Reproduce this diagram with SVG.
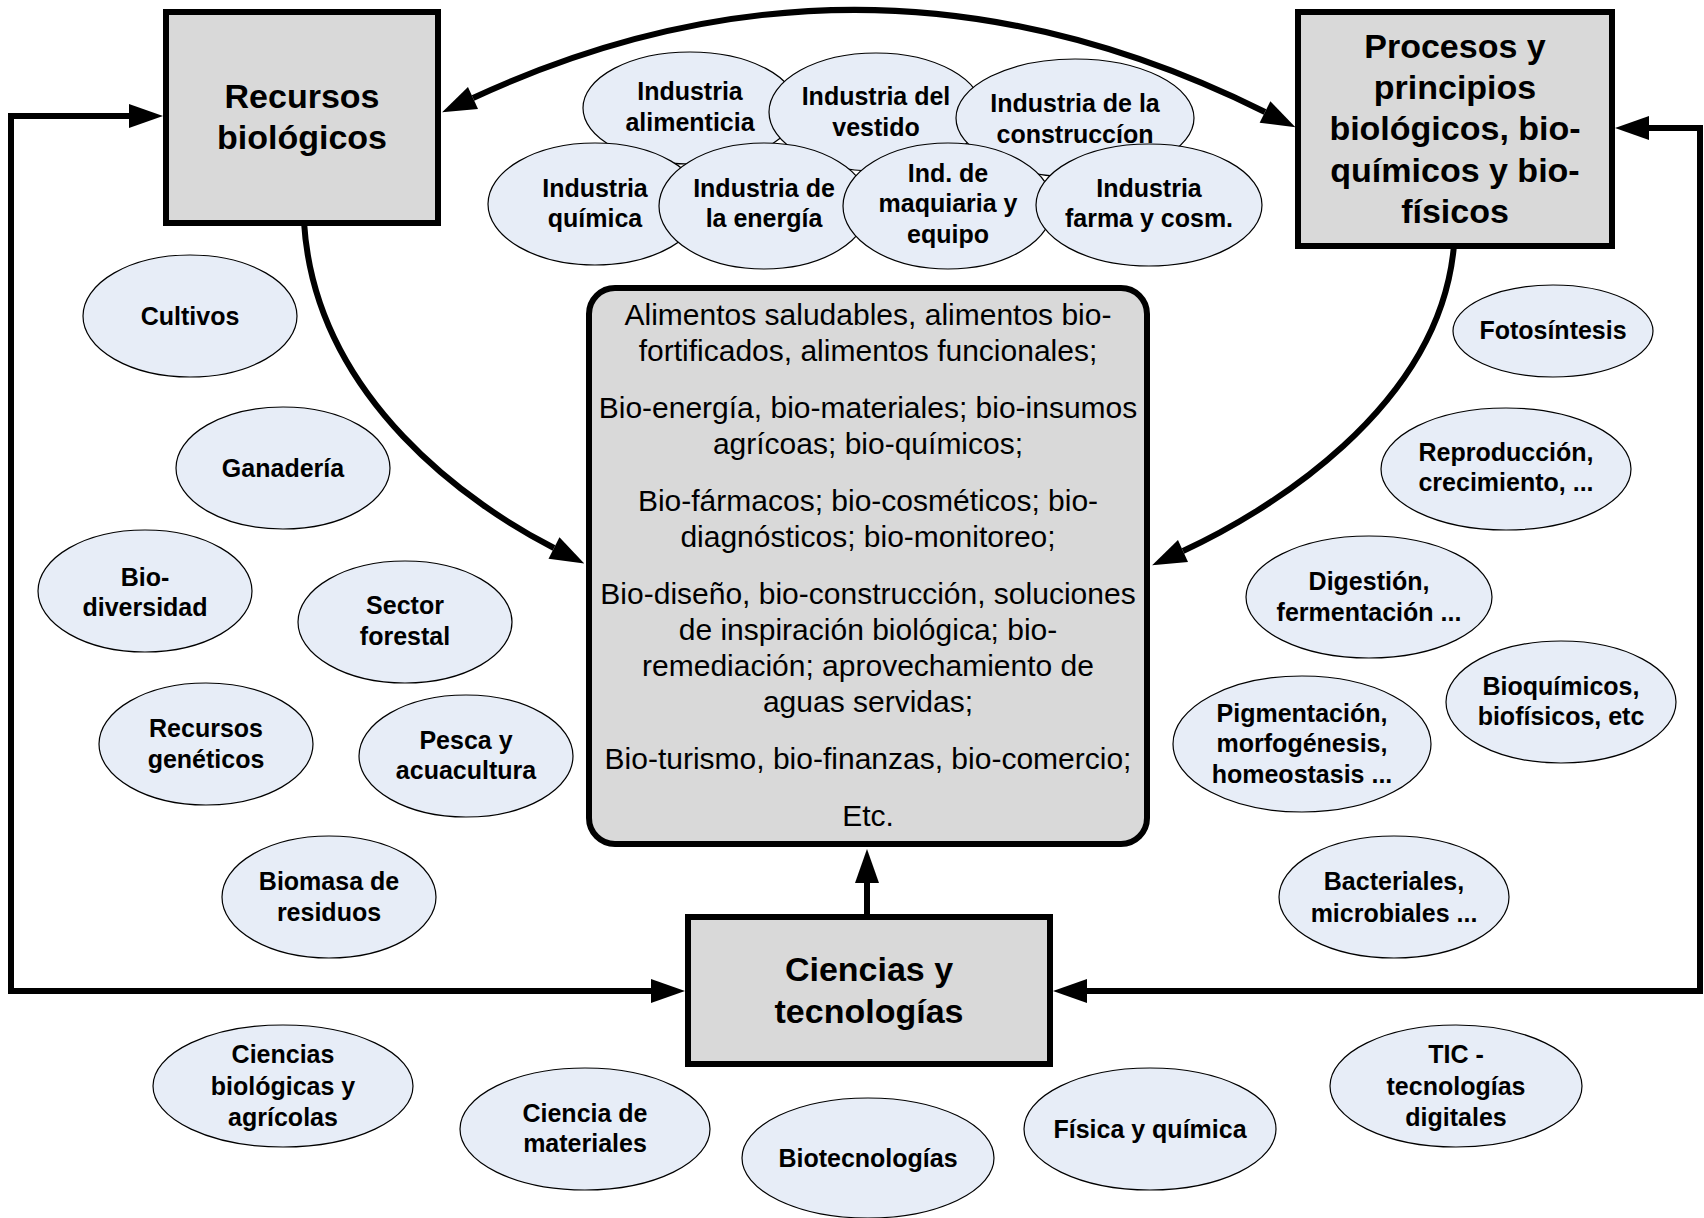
<svg xmlns="http://www.w3.org/2000/svg" width="1704" height="1218" viewBox="0 0 1704 1218">
<style>
.bg{fill:#ffffff}
.box{fill:#d9d9d9;stroke:#000;stroke-width:6}
.el{fill:#e7edf7;stroke:#000;stroke-width:1.2}
.con{fill:none;stroke:#000;stroke-width:6;stroke-linejoin:miter}
.bt{font-family:"Liberation Sans",Arial,sans-serif;font-weight:bold;font-size:34px;text-anchor:middle;fill:#000}
.et{font-family:"Liberation Sans",Arial,sans-serif;font-weight:bold;font-size:25px;text-anchor:middle;fill:#000}
.ct{font-family:"Liberation Sans",Arial,sans-serif;font-size:30px;text-anchor:middle;fill:#000}
</style>
<defs>
<marker id="ah" markerUnits="userSpaceOnUse" markerWidth="36" markerHeight="26" refX="0" refY="12" orient="auto-start-reverse" overflow="visible">
<path d="M0,0 L34,12 L0,24 z" fill="#000"/>
</marker>
</defs>
<rect class="bg" x="0" y="0" width="1704" height="1218"/>

<g id="connectors">
<path class="con" d="M473 98 Q869 -85 1265 112" marker-start="url(#ah)" marker-end="url(#ah)"/>
<path class="con" d="M304 222 C315 400 474 507 554 548" marker-end="url(#ah)"/>
<path class="con" d="M1454 245 C1440 410 1263 514 1183 551" marker-end="url(#ah)"/>
<path class="con" d="M651 991 L11 991 L11 116 L129 116" marker-start="url(#ah)" marker-end="url(#ah)"/>
<path class="con" d="M1087 991 L1700 991 L1700 128 L1649 128" marker-start="url(#ah)" marker-end="url(#ah)"/>
<path class="con" d="M867 916 L867 883" marker-end="url(#ah)"/>
</g>

<g id="recursos">
<rect class="box" x="166" y="12" width="272" height="211"/>
<text class="bt" x="302" y="108">Recursos</text>
<text class="bt" x="302" y="149">biológicos</text>
</g>
<g id="procesos">
<rect class="box" x="1298" y="12" width="314" height="234"/>
<text class="bt" x="1455" y="58">Procesos y</text>
<text class="bt" x="1455" y="99">principios</text>
<text class="bt" x="1455" y="140">biológicos, bio-</text>
<text class="bt" x="1455" y="182">químicos y bio-</text>
<text class="bt" x="1455" y="223">físicos</text>
</g>
<g id="ciencias">
<rect class="box" x="688" y="917" width="362" height="147"/>
<text class="bt" x="869" y="981">Ciencias y</text>
<text class="bt" x="869" y="1023">tecnologías</text>
</g>
<g id="productos">
<rect class="box" x="589" y="288" width="558" height="556" rx="26" ry="26"/>
<text class="ct" x="868" y="325">Alimentos saludables, alimentos bio-</text>
<text class="ct" x="868" y="361">fortificados, alimentos funcionales;</text>
<text class="ct" x="868" y="418">Bio-energía, bio-materiales; bio-insumos</text>
<text class="ct" x="868" y="454">agrícoas; bio-químicos;</text>
<text class="ct" x="868" y="511">Bio-fármacos; bio-cosméticos; bio-</text>
<text class="ct" x="868" y="547">diagnósticos; bio-monitoreo;</text>
<text class="ct" x="868" y="604">Bio-diseño, bio-construcción, soluciones</text>
<text class="ct" x="868" y="640">de inspiración biológica; bio-</text>
<text class="ct" x="868" y="676">remediación; aprovechamiento de</text>
<text class="ct" x="868" y="712">aguas servidas;</text>
<text class="ct" x="868" y="769">Bio-turismo, bio-finanzas, bio-comercio;</text>
<text class="ct" x="868" y="826">Etc.</text>
</g>

<g id="ind-alimenticia"><ellipse class="el" cx="690" cy="108" rx="107" ry="56"/><text class="et" x="690" y="100">Industria</text><text class="et" x="690" y="131">alimenticia</text></g>
<g id="ind-vestido"><ellipse class="el" cx="876" cy="112" rx="107" ry="59"/><text class="et" x="876" y="105">Industria del</text><text class="et" x="876" y="136">vestido</text></g>
<g id="ind-construccion"><ellipse class="el" cx="1075" cy="118" rx="119" ry="59"/><text class="et" x="1075" y="112">Industria de la</text><text class="et" x="1075" y="143">construccíon</text></g>
<g id="ind-quimica"><ellipse class="el" cx="595" cy="204" rx="107" ry="61"/><text class="et" x="595" y="197">Industria</text><text class="et" x="595" y="227">química</text></g>
<g id="ind-energia"><ellipse class="el" cx="764" cy="206" rx="105" ry="63"/><text class="et" x="764" y="197">Industria de</text><text class="et" x="764" y="227">la energía</text></g>
<g id="ind-maquinaria"><ellipse class="el" cx="948" cy="206" rx="105" ry="63"/><text class="et" x="948" y="182">Ind. de</text><text class="et" x="948" y="212">maquiaria y</text><text class="et" x="948" y="243">equipo</text></g>
<g id="ind-farma"><ellipse class="el" cx="1149" cy="205" rx="113" ry="61"/><text class="et" x="1149" y="197">Industria</text><text class="et" x="1149" y="227">farma y cosm.</text></g>

<g id="cultivos"><ellipse class="el" cx="190" cy="316" rx="107" ry="61"/><text class="et" x="190" y="325">Cultivos</text></g>
<g id="ganaderia"><ellipse class="el" cx="283" cy="468" rx="107" ry="61"/><text class="et" x="283" y="477">Ganadería</text></g>
<g id="biodiversidad"><ellipse class="el" cx="145" cy="591" rx="107" ry="61"/><text class="et" x="145" y="586">Bio-</text><text class="et" x="145" y="616">diversidad</text></g>
<g id="forestal"><ellipse class="el" cx="405" cy="622" rx="107" ry="61"/><text class="et" x="405" y="614">Sector</text><text class="et" x="405" y="645">forestal</text></g>
<g id="geneticos"><ellipse class="el" cx="206" cy="744" rx="107" ry="61"/><text class="et" x="206" y="737">Recursos</text><text class="et" x="206" y="768">genéticos</text></g>
<g id="pesca"><ellipse class="el" cx="466" cy="756" rx="107" ry="61"/><text class="et" x="466" y="749">Pesca y</text><text class="et" x="466" y="779">acuacultura</text></g>
<g id="biomasa"><ellipse class="el" cx="329" cy="897" rx="107" ry="61"/><text class="et" x="329" y="890">Biomasa de</text><text class="et" x="329" y="921">residuos</text></g>

<g id="fotosintesis"><ellipse class="el" cx="1553" cy="331" rx="100" ry="46"/><text class="et" x="1553" y="339">Fotosíntesis</text></g>
<g id="reproduccion"><ellipse class="el" cx="1506" cy="469" rx="125" ry="61"/><text class="et" x="1506" y="461">Reproducción,</text><text class="et" x="1506" y="491">crecimiento, ...</text></g>
<g id="digestion"><ellipse class="el" cx="1369" cy="597" rx="123" ry="61"/><text class="et" x="1369" y="590">Digestión,</text><text class="et" x="1369" y="621">fermentación ...</text></g>
<g id="bioquimicos"><ellipse class="el" cx="1561" cy="702" rx="115" ry="61"/><text class="et" x="1561" y="695">Bioquímicos,</text><text class="et" x="1561" y="725">biofísicos, etc</text></g>
<g id="pigmentacion"><ellipse class="el" cx="1302" cy="744" rx="129" ry="68"/><text class="et" x="1302" y="722">Pigmentación,</text><text class="et" x="1302" y="752">morfogénesis,</text><text class="et" x="1302" y="783">homeostasis ...</text></g>
<g id="bacteriales"><ellipse class="el" cx="1394" cy="897" rx="115" ry="61"/><text class="et" x="1394" y="890">Bacteriales,</text><text class="et" x="1394" y="922">microbiales ...</text></g>

<g id="cs-biologicas"><ellipse class="el" cx="283" cy="1086" rx="130" ry="61"/><text class="et" x="283" y="1063">Ciencias</text><text class="et" x="283" y="1095">biológicas y</text><text class="et" x="283" y="1126">agrícolas</text></g>
<g id="cs-materiales"><ellipse class="el" cx="585" cy="1129" rx="125" ry="61"/><text class="et" x="585" y="1122">Ciencia de</text><text class="et" x="585" y="1152">materiales</text></g>
<g id="biotecnologias"><ellipse class="el" cx="868" cy="1158" rx="126" ry="60"/><text class="et" x="868" y="1167">Biotecnologías</text></g>
<g id="fisica-quimica"><ellipse class="el" cx="1150" cy="1129" rx="126" ry="61"/><text class="et" x="1150" y="1138">Física y química</text></g>
<g id="tic"><ellipse class="el" cx="1456" cy="1086" rx="126" ry="61"/><text class="et" x="1456" y="1063">TIC -</text><text class="et" x="1456" y="1095">tecnologías</text><text class="et" x="1456" y="1126">digitales</text></g>
</svg>
